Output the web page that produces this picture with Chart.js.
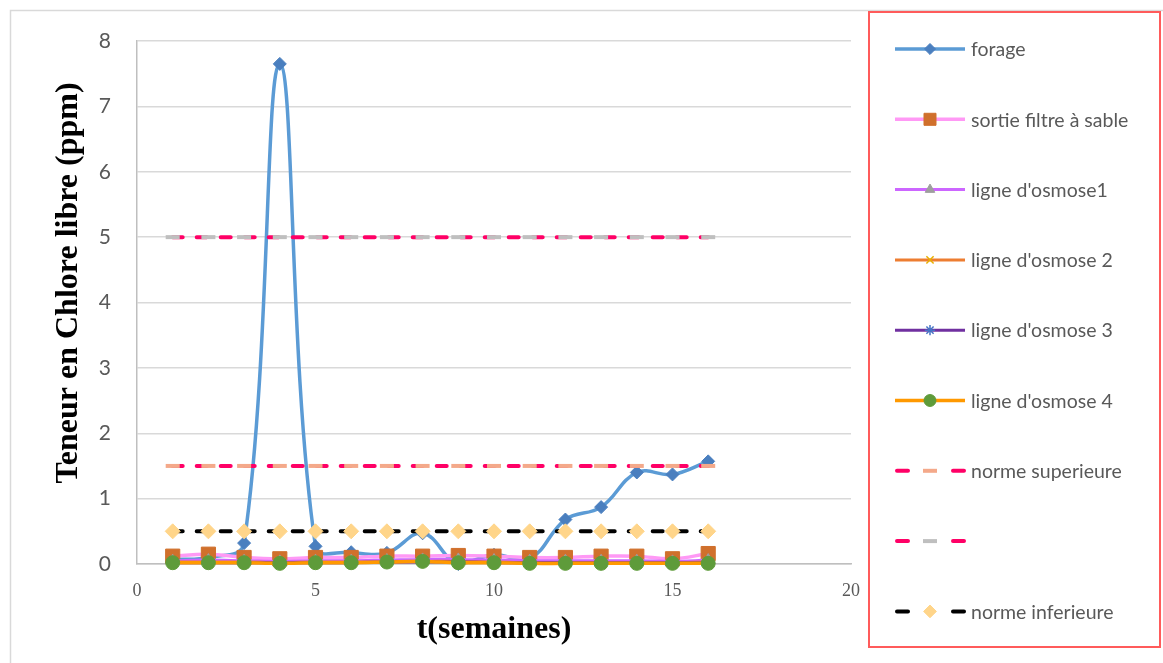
<!DOCTYPE html>
<html lang="fr">
<head>
<meta charset="UTF-8">
<title>Teneur en chlore libre</title>
<script src="https://cdn.jsdelivr.net/npm/chart.js"></script>
<style>
  html, body { margin: 0; padding: 0; background: #fff; }
</style>
</head>
<body>
<canvas id="chlore" width="1163" height="663"></canvas>

<script>
    // semaines de prélèvement
    const semaines = [1, 2, 3, 4, 5, 6, 7, 8, 9, 10, 11, 12, 13, 14, 15, 16];

    // teneurs relevées (ppm)
    const forage        = [0.07, 0.10, 0.32, 7.65, 0.27, 0.18, 0.17, 0.47, 0.00, 0.14, 0.08, 0.68, 0.87, 1.40, 1.37, 1.57];
    const sortieFiltre  = [0.12, 0.15, 0.10, 0.08, 0.10, 0.10, 0.12, 0.12, 0.13, 0.12, 0.10, 0.10, 0.12, 0.12, 0.08, 0.16];
    const osmose1       = [0.05, 0.06, 0.05, 0.04, 0.05, 0.05, 0.06, 0.07, 0.07, 0.06, 0.05, 0.05, 0.05, 0.05, 0.04, 0.06];
    const osmose2       = [0.03, 0.03, 0.03, 0.02, 0.03, 0.03, 0.03, 0.04, 0.04, 0.03, 0.02, 0.02, 0.02, 0.02, 0.02, 0.03];
    const osmose3       = [0.02, 0.02, 0.02, 0.02, 0.02, 0.02, 0.03, 0.03, 0.03, 0.02, 0.02, 0.02, 0.02, 0.02, 0.02, 0.02];
    const osmose4       = [0.02, 0.02, 0.02, 0.01, 0.02, 0.02, 0.03, 0.04, 0.02, 0.02, 0.01, 0.01, 0.01, 0.01, 0.01, 0.01];
    const normeSup      = [1.5, 1.5, 1.5, 1.5, 1.5, 1.5, 1.5, 1.5, 1.5, 1.5, 1.5, 1.5, 1.5, 1.5, 1.5, 1.5];
    const normeHaute    = [5, 5, 5, 5, 5, 5, 5, 5, 5, 5, 5, 5, 5, 5, 5, 5];
    const normeInf      = [0.5, 0.5, 0.5, 0.5, 0.5, 0.5, 0.5, 0.5, 0.5, 0.5, 0.5, 0.5, 0.5, 0.5, 0.5, 0.5];

    const xTicks = [0, 5, 10, 15, 20];
    const yTicks = [0, 1, 2, 3, 4, 5, 6, 7, 8];
    const yTitle = 'Teneur en Chlore libre (ppm)';

    const pts = arr => semaines.map((x, i) => ({ x: x, y: arr[i] }));
    const grey = '#595959';

    const datasets = [
        { label: 'forage', data: pts(forage), borderColor: '#5B9BD5', borderWidth: 3.5, tension: 0.4,
          pointStyle: 'rectRot', pointRadius: 6.5, pointBackgroundColor: '#4A7FBF', pointBorderColor: '#4A7FBF', pointBorderWidth: 1 },
        { label: 'sortie filtre à sable', data: pts(sortieFiltre), borderColor: '#FF99F5', borderWidth: 3.5, tension: 0.4,
          pointStyle: 'rect', pointRadius: 10, pointBackgroundColor: '#D0702C', pointBorderColor: '#D0702C', pointBorderWidth: 1 },
        { label: "ligne d'osmose1", data: pts(osmose1), borderColor: '#CC66FF', borderWidth: 3, tension: 0.4,
          pointStyle: 'triangle', pointRadius: 6.5, pointBackgroundColor: '#9E9E9E', pointBorderColor: '#9E9E9E', pointBorderWidth: 1 },
        { label: "ligne d'osmose 2", data: pts(osmose2), borderColor: '#ED7D31', borderWidth: 3, tension: 0.4,
          pointStyle: 'crossRot', pointRadius: 6, pointBackgroundColor: '#E8B000', pointBorderColor: '#E8B000', pointBorderWidth: 1.5 },
        { label: "ligne d'osmose 3", data: pts(osmose3), borderColor: '#7030A0', borderWidth: 3, tension: 0.4,
          pointStyle: 'star', pointRadius: 6, pointBackgroundColor: '#4472C4', pointBorderColor: '#4472C4', pointBorderWidth: 1.5 },
        { label: "ligne d'osmose 4", data: pts(osmose4), borderColor: '#FF9900', borderWidth: 3.5, tension: 0.4,
          pointStyle: 'circle', pointRadius: 7, pointBackgroundColor: '#5E9B3A', pointBorderColor: '#5E9B3A', pointBorderWidth: 1 },
        { label: 'norme superieure', data: pts(normeSup), borderColor: '#FF0066', borderWidth: 4, borderDash: [10, 14], borderCapStyle: 'round', tension: 0,
          pointStyle: 'line', pointRadius: 7, pointBorderColor: '#F4A98A', pointBackgroundColor: '#F4A98A', pointBorderWidth: 4 },
        { label: '', data: pts(normeHaute), borderColor: '#FF0066', borderWidth: 4, borderDash: [10, 14], borderCapStyle: 'round', tension: 0,
          pointStyle: 'line', pointRadius: 7, pointBorderColor: '#BFBFBF', pointBackgroundColor: '#BFBFBF', pointBorderWidth: 4 },
        { label: 'norme inferieure', data: pts(normeInf), borderColor: '#000000', borderWidth: 4, borderDash: [10, 14], borderCapStyle: 'round', tension: 0,
          pointStyle: 'rectRot', pointRadius: 7.5, pointBorderColor: '#FFD58A', pointBackgroundColor: '#FFD58A', pointBorderWidth: 1 }
    ];
    // excel draws later series on top, and does not cut markers at the axis
    datasets.forEach((d, i) => { d.order = datasets.length - i; d.fill = false; d.clip = false; });

    // frame, y title (sits a bit above the axis centre) and the legend box on the right
    const excelLegend = {
        id: 'excelLegend',
        afterDraw(chart) {
            const ctx = chart.ctx;
            ctx.save();
            ctx.strokeStyle = '#d9d9d9';
            ctx.lineWidth = 1.5;
            ctx.beginPath();
            ctx.moveTo(10.5, 700);
            ctx.lineTo(10.5, 10.5);
            ctx.lineTo(1200, 10.5);
            ctx.stroke();

            ctx.save();
            ctx.translate(69, 283);
            ctx.rotate(-Math.PI / 2);
            ctx.fillStyle = '#000';
            ctx.font = 'bold 32px "Liberation Serif"';
            ctx.textAlign = 'center';
            ctx.textBaseline = 'middle';
            ctx.fillText(yTitle, 0, 0);
            ctx.restore();

            ctx.strokeStyle = '#FF5B5B';
            ctx.lineWidth = 2;
            ctx.strokeRect(869, 12, 291, 635);

            chart.data.datasets.forEach((ds, i) => {
                const y = 49 + i * 70.3;
                ctx.save();
                ctx.strokeStyle = ds.borderColor;
                ctx.lineWidth = ds.borderWidth;
                ctx.beginPath();
                if (ds.borderDash) {
                    ctx.lineCap = 'round';
                    ctx.setLineDash([11, 45]);
                    ctx.moveTo(897, y);
                    ctx.lineTo(966, y);
                } else {
                    ctx.moveTo(895, y);
                    ctx.lineTo(965, y);
                }
                ctx.stroke();
                ctx.restore();

                ctx.save();
                ctx.fillStyle = ds.pointBackgroundColor;
                ctx.strokeStyle = ds.pointBorderColor;
                ctx.lineWidth = ds.pointBorderWidth;
                const r = ds.pointStyle === 'line' ? 7 : ds.pointRadius * 0.85;
                Chart.helpers.drawPoint(ctx, {
                    pointStyle: ds.pointStyle, radius: r, rotation: 0, borderWidth: ds.pointBorderWidth
                }, 930, y);
                ctx.restore();

                ctx.fillStyle = grey;
                ctx.font = '19.5px Lato';
                ctx.textBaseline = 'middle';
                ctx.textAlign = 'left';
                ctx.fillText(ds.label, 971, y + 1);
            });
            ctx.restore();
        }
    };

    const chart = new Chart(document.getElementById('chlore').getContext('2d'), {
        type: 'line',
        data: { datasets: datasets },
        plugins: [excelLegend],
        options: {
            responsive: false,
            animation: false,
            layout: { padding: { top: 41, right: 312, bottom: 0, left: 0 } },
            plugins: { legend: { display: false }, tooltip: { enabled: false } },
            scales: {
                x: {
                    type: 'linear', min: 0, max: 20,
                    afterBuildTicks: s => { s.ticks = xTicks.map(v => ({ value: v })); },
                    afterFit: s => { s.height = 99; },
                    grid: { display: false, drawTicks: false },
                    border: { color: '#BFBFBF', width: 1.5 },
                    ticks: { color: grey, padding: 16, font: { family: 'Liberation Serif', size: 18 } },
                    title: { display: true, text: 't(semaines)', color: '#000',
                             font: { family: 'Liberation Serif', size: 32, weight: 'bold' }, padding: { top: 0, bottom: 14 } }
                },
                y: {
                    min: 0, max: 8,
                    afterBuildTicks: s => { s.ticks = yTicks.map(v => ({ value: v })); },
                    afterFit: s => { s.width = 137; },
                    grid: { color: '#D9D9D9', lineWidth: 1.5, drawTicks: false },
                    border: { color: '#BFBFBF', width: 1.5 },
                    ticks: { color: grey, padding: 26, font: { family: 'Lato', size: 21 } },
                    title: { display: false }
                }
            }
        }
    });
</script>
</body>
</html>
